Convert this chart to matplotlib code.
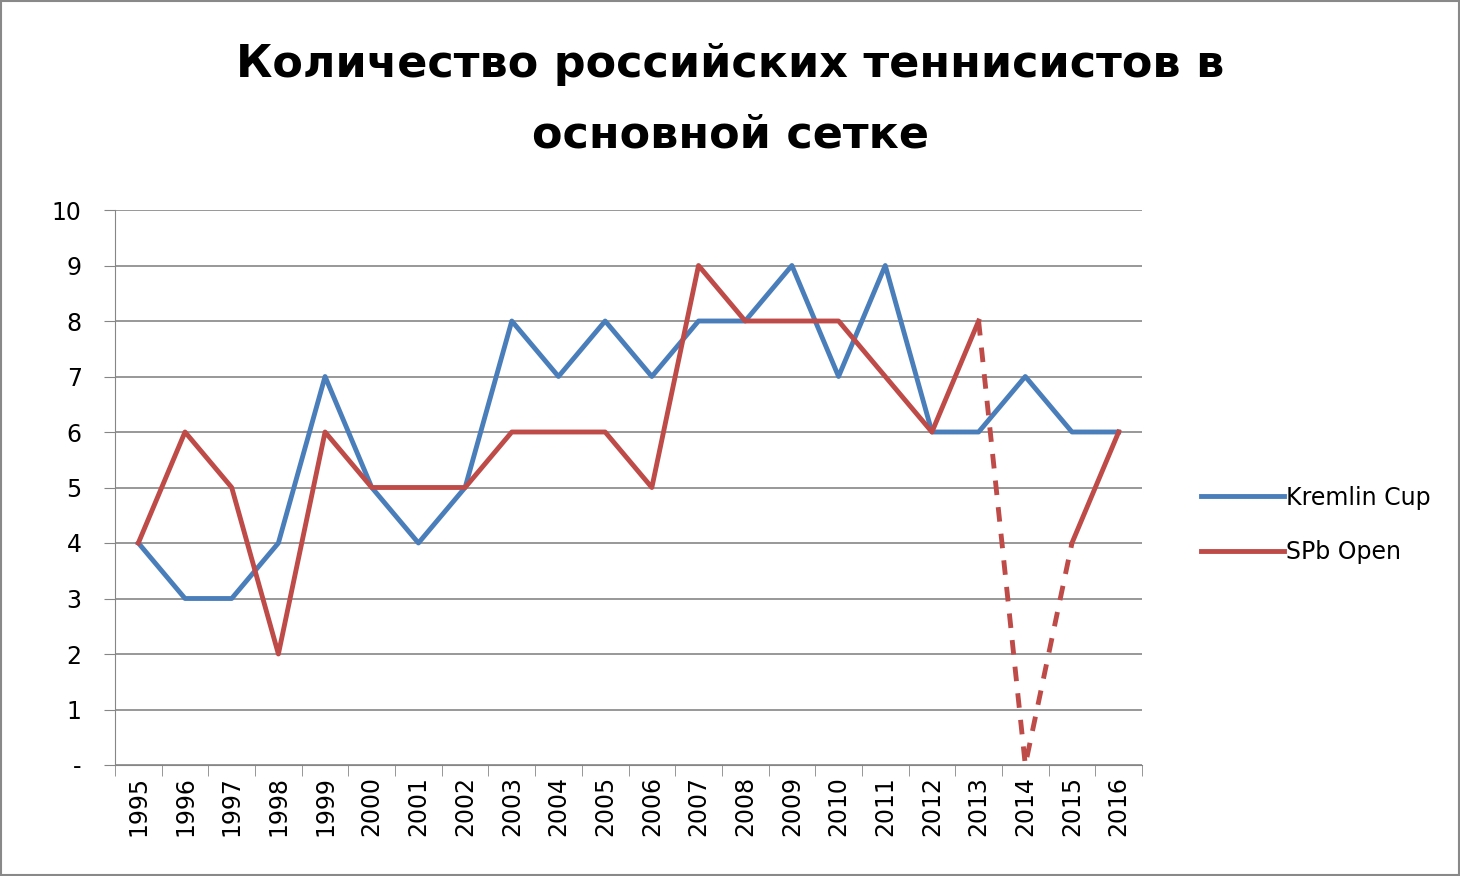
import matplotlib
matplotlib.use('Agg')
import matplotlib.pyplot as plt
from matplotlib.patches import Rectangle

years = list(range(1995, 2017))
kremlin = [4, 3, 3, 4, 7, 5, 4, 5, 8, 7, 8, 7, 8, 8, 9, 7, 9, 6, 6, 7, 6, 6]
spb = [4, 6, 5, 2, 6, 5, 5, 5, 6, 6, 6, 5, 9, 8, 8, 8, 7, 6, 8, 0, 4, 6]
dash_from, dash_to = 2013, 2015  # 2014 data point is dashed

blue = '#4a7ebb'
red = '#be4b48'

fig = plt.figure(figsize=(14.6, 8.76), dpi=100)
fig.patches.append(Rectangle((0.001, 0.001), 0.998, 0.998, transform=fig.transFigure,
                             fill=False, edgecolor='#898989', linewidth=1.5))
ax = fig.add_axes([115 / 1460, 1 - 765 / 876, (1142 - 115) / 1460, (765 - 210) / 876])

x = list(range(len(years)))
ax.plot(x, kremlin, color=blue, lw=3.5, label='Kremlin Cup')
i0, i1 = years.index(dash_from), years.index(dash_to)
ax.plot(x[:i0 + 1], spb[:i0 + 1], color=red, lw=3.5, label='SPb Open')
ax.plot(x[i0:i1 + 1], spb[i0:i1 + 1], color=red, lw=3.5, ls=(0, (3, 2.5)))
ax.plot(x[i1:], spb[i1:], color=red, lw=3.5)

ax.set_xlim(-0.5, len(years) - 0.5)
ax.set_ylim(0, 10)
ax.set_yticks(range(11))
ax.set_yticklabels(['-'] + [str(v) for v in range(1, 11)], fontsize=17, family='DejaVu Sans')
ax.yaxis.grid(True, color='#868686', lw=1.2)
ax.set_xticks(x)
ax.set_xticklabels([str(y) for y in years], rotation=90, fontsize=17, family='DejaVu Sans')
ax.tick_params(axis='x', length=0, pad=8)
ax.set_xticks([i - 0.5 for i in range(len(years) + 1)], minor=True)
ax.tick_params(axis='x', which='minor', length=8, color='#868686')
ax.tick_params(axis='y', length=8, color='#868686', pad=16)
for s in ['top', 'right']:
    ax.spines[s].set_visible(False)
for s in ['left', 'bottom']:
    ax.spines[s].set_color('#868686')

fig.text(0.5, 1 - 65 / 876, 'Количество российских теннисистов в', ha='center', va='center',
         fontsize=32, fontweight='bold', family='DejaVu Sans')
fig.text(0.5, 1 - 135 / 876, 'основной сетке', ha='center', va='center',
         fontsize=32, fontweight='bold', family='DejaVu Sans')

fig.legend(loc='center left', bbox_to_anchor=(1180 / 1460, 1 - 525 / 876), frameon=False,
           handlelength=3.5, handletextpad=0.1, labelspacing=1.3,
           prop={'family': 'DejaVu Sans', 'size': 17})

fig.savefig('out.png', dpi=100)
